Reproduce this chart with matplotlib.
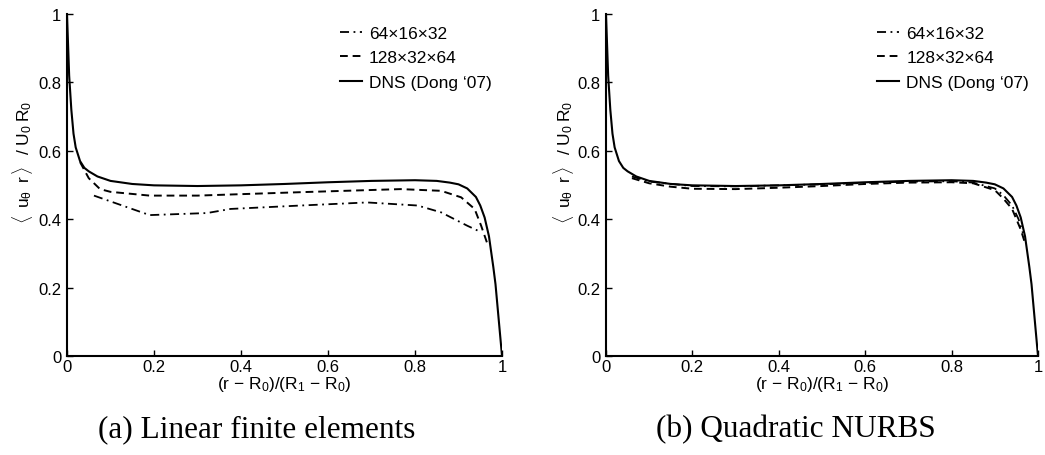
import numpy as np
import matplotlib
matplotlib.use("Agg")
import matplotlib.pyplot as plt

plt.rcParams['font.family'] = ['Liberation Sans', 'DejaVu Sans']
plt.rcParams['mathtext.fontset'] = 'custom'
plt.rcParams['mathtext.rm'] = 'Liberation Sans'
plt.rcParams['mathtext.it'] = 'Liberation Sans'
plt.rcParams['mathtext.bf'] = 'Liberation Sans:bold'

# ---- data ----
dns_x = [0.0, 0.005, 0.01, 0.015, 0.02, 0.03, 0.04, 0.05, 0.07, 0.1, 0.15, 0.2, 0.3, 0.4,
         0.5, 0.6, 0.7, 0.8, 0.85, 0.88, 0.9, 0.92, 0.94, 0.95, 0.96, 0.97, 0.98, 0.985,
         0.99, 0.995, 1.0]
dns_y = [1.0, 0.82, 0.72, 0.65, 0.61, 0.57, 0.55, 0.54, 0.525, 0.512, 0.503, 0.499, 0.497,
         0.499, 0.503, 0.508, 0.512, 0.514, 0.512, 0.507, 0.502, 0.49, 0.465, 0.44, 0.405,
         0.35, 0.26, 0.21, 0.14, 0.07, 0.0]

# (a) linear finite elements
a_fine_x = [0.03, 0.05, 0.076, 0.1, 0.19, 0.3, 0.537, 0.767, 0.86, 0.906, 0.937, 0.952, 0.968]
a_fine_y = [0.567, 0.52, 0.488, 0.48, 0.469, 0.469, 0.479, 0.488, 0.483, 0.464, 0.43, 0.381, 0.322]
a_coarse_x = [0.062, 0.19, 0.322, 0.376, 0.537, 0.69, 0.806, 0.86, 0.92, 0.952]
a_coarse_y = [0.469, 0.412, 0.418, 0.43, 0.44, 0.449, 0.44, 0.42, 0.381, 0.362]

# (b) quadratic NURBS
b_fine_x = [0.06, 0.1, 0.15, 0.2, 0.3, 0.4, 0.5, 0.6, 0.7, 0.8, 0.85, 0.9, 0.92, 0.94,
            0.95, 0.96, 0.97]
b_fine_y = [0.52, 0.505, 0.495, 0.489, 0.488, 0.492, 0.497, 0.503, 0.507, 0.508, 0.505,
            0.485, 0.46, 0.43, 0.40, 0.37, 0.33]
b_coarse_x = [0.06, 0.1, 0.2, 0.3, 0.5, 0.7, 0.8, 0.85, 0.9, 0.92, 0.94, 0.955, 0.965]
b_coarse_y = [0.525, 0.51, 0.497, 0.496, 0.502, 0.51, 0.511, 0.507, 0.49, 0.47, 0.44, 0.40, 0.36]

labels = ['64\u00d716\u00d732', '128\u00d732\u00d764', 'DNS (Dong \u201807)']
ticks = [0, 0.2, 0.4, 0.6, 0.8, 1]
tick_labels = ['0', '0.2', '0.4', '0.6', '0.8', '1']
captions = ['(a) Linear finite elements', '(b) Quadratic NURBS']

fig = plt.figure(figsize=(10.45, 4.56), dpi=100)
axes_rects = [[0.0641, 0.2171, 0.4163, 0.75], [0.5799, 0.2171, 0.4134, 0.75]]
series = [(a_coarse_x, a_coarse_y, a_fine_x, a_fine_y),
          (b_coarse_x, b_coarse_y, b_fine_x, b_fine_y)]
cap_x = [257 / 1045, 796 / 1045]
ylab_x = [-0.103, -0.098]

for i, rect in enumerate(axes_rects):
    ax = fig.add_axes(rect)
    cx, cy, fx, fy = series[i]
    ax.plot(cx, cy, color='black', lw=1.3, ls=(0, (5, 2.5, 1, 2.5)), label=labels[0])
    ax.plot(fx, fy, color='black', lw=1.4, ls=(0, (4, 2.5)), label=labels[1])
    ax.plot(dns_x, dns_y, color='black', lw=1.5, ls='-', label=labels[2])
    ax.set_xlim(0, 1)
    ax.set_ylim(0, 1)
    ax.set_xticks(ticks)
    ax.set_xticklabels(tick_labels)
    ax.set_yticks(ticks)
    ax.set_yticklabels(tick_labels)
    for s in ['top', 'right']:
        ax.spines[s].set_visible(False)
    for s in ['left', 'bottom']:
        ax.spines[s].set_linewidth(1.5)
    ax.tick_params(direction='in', length=4, width=1.0, labelsize=12, pad=2)
    ax.tick_params(axis='y', pad=4)
    ax.text(0.5, -0.08, r'(r $-$ R$_0$)/(R$_1$ $-$ R$_0$)', transform=ax.transAxes,
            ha='center', va='center', fontsize=12.5)
    ax.set_ylabel(r'$\langle\;\;u_{\theta}\;\;r\,\rangle\;\;\;/\;U_0\;R_0$', fontsize=12.5,
                  va='center')
    ax.yaxis.set_label_coords(ylab_x[i], 0.57)
    ax.legend(loc='upper left', bbox_to_anchor=(0.612, 0.985), frameon=False,
              fontsize=12.5, handlelength=1.26, handletextpad=0.4, labelspacing=0.52,
              borderaxespad=0)
    fig.text(cap_x[i], 1 - 430 / 456, captions[i], ha='center', va='center',
             fontsize=22.5, family='Liberation Serif')

fig.savefig('out.png', dpi=100)
